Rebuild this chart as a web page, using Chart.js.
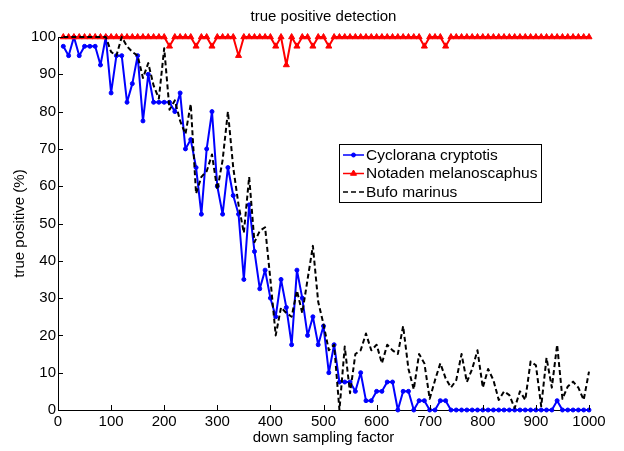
<!DOCTYPE html>
<html><head><meta charset="utf-8">
<script src="https://cdn.jsdelivr.net/npm/chart.js@4/dist/chart.umd.min.js"></script>
<style>html,body{margin:0;padding:0;background:#fff;}#wrap{width:624px;height:451px;}</style>
</head><body><div id="wrap"><canvas id="c" width="624" height="451"></canvas></div>
<script>
const samplingFactors = [10,20,30,40,50,60,70,80,90,100,110,120,130,140,150,160,170,180,190,200,
  210,220,230,240,250,260,270,280,290,300,310,320,330,340,350,360,370,380,390,400,
  410,420,430,440,450,460,470,480,490,500,510,520,530,540,550,560,570,580,590,600,
  610,620,630,640,650,660,670,680,690,700,710,720,730,740,750,760,770,780,790,800,
  810,820,830,840,850,860,870,880,890,900,910,920,930,940,950,960,970,980,990,1000];
const cyclorana = [97.5,95,100,95,97.5,97.5,97.5,92.5,100,85,
  95,95,82.5,87.5,95,77.5,90,82.5,82.5,82.5,
  82.5,80,85,70,72.5,65,52.5,70,80,60,
  52.5,65,57.5,52.5,35,55,42.5,32.5,37.5,30,
  25,35,27.5,17.5,37.5,30,20,25,17.5,22.5,
  10,17.5,7.5,7.5,7.5,5,10,2.5,2.5,5,
  5,7.5,7.5,0,5,5,0,2.5,2.5,0,
  0,2.5,2.5,0,0,0,0,0,0,0,
  0,0,0,0,0,0,0,0,0,0,
  0,0,0,2.5,0,0,0,0,0,0];
const notaden = [100,100,100,100,100,100,100,100,100,100,
  100,100,100,100,100,100,100,100,100,100,
  97.5,100,100,100,100,97.5,100,100,97.5,100,
  100,100,100,95,100,100,100,100,100,100,
  97.5,100,92.5,100,97.5,100,100,97.5,100,100,
  97.5,100,100,100,100,100,100,100,100,100,
  100,100,100,100,100,100,100,100,97.5,100,
  100,100,97.5,100,100,100,100,100,100,100,
  100,100,100,100,100,100,100,100,100,100,
  100,100,100,100,100,100,100,100,100,100];
const bufo = [100,100,100,100,100,100,100,100,100,96,
  95,100,97.5,96,95,89,93,87,83.5,97,
  80.5,83,77.5,74,82,58,62.5,64,68.5,59,
  67,80,65,55,47.5,62.5,45,48,49,35,
  20,27.5,26,25,32,26,35,44,29,23,
  16,17.5,0,17,4.5,15,16,20.5,16,17.5,
  12.5,17.5,16,15,22.5,11,5.5,15,12.5,3,
  8,12.5,8.5,6,8,15,7.5,11,16,6,
  11,8,2.7,5,4,0.5,5,2.7,13,12,
  1,14,6,17.5,3,6.3,7.6,6,2.7,10.3];
const seriesNames = ['Cyclorana cryptotis','Notaden melanoscaphus','Bufo marinus'];
const xTicks = [0,100,200,300,400,500,600,700,800,900,1000];
const yTicks = [0,10,20,30,40,50,60,70,80,90,100];
const chartTitle = 'true positive detection';
const xTitle = 'down sampling factor';
const yTitle = 'true positive (%)';

const FONT = '"Liberation Sans", Arial, Helvetica, sans-serif';
const pts = arr => samplingFactors.map((x,i)=>({x:x,y:arr[i]}));

const decorPlugin = {
  id:'decor',
  afterDraw(chart){
    const ctx = chart.ctx, a = chart.chartArea;
    const xs = chart.scales.x, ys = chart.scales.y;
    ctx.save();
    ctx.strokeStyle = '#000'; ctx.lineWidth = 1;
    ctx.beginPath();
    xTicks.forEach(v=>{ const p = Math.round(xs.getPixelForValue(v))+0.5; ctx.moveTo(p,a.bottom); ctx.lineTo(p,a.bottom-5); });
    yTicks.forEach(v=>{ const p = Math.round(ys.getPixelForValue(v))+0.5; ctx.moveTo(a.left,p); ctx.lineTo(a.left+5,p); });
    ctx.stroke();
    ctx.fillStyle = '#000';
    ctx.font = '15px ' + FONT;
    ctx.textAlign = 'center'; ctx.textBaseline = 'middle';
    ctx.fillText(chartTitle, (a.left+a.right)/2, 17);
    const lx = 339.5, ly = 144.5, lw = 202, lh = 58;
    ctx.fillStyle = '#fff'; ctx.fillRect(lx,ly,lw,lh);
    ctx.strokeStyle = '#000'; ctx.lineWidth = 1; ctx.strokeRect(lx,ly,lw,lh);
    const rows = [155, 173.5, 192];
    chart.data.datasets.forEach((ds,i)=>{
      const y = rows[i];
      ctx.save();
      ctx.strokeStyle = ds.borderColor; ctx.lineWidth = 1.5;
      ctx.setLineDash(ds.borderDash || []);
      ctx.beginPath(); ctx.moveTo(343,y); ctx.lineTo(364,y); ctx.stroke();
      ctx.setLineDash([]);
      if (ds.pointRadius > 0) {
        ctx.fillStyle = ds.pointBackgroundColor; ctx.strokeStyle = ds.pointBorderColor;
        ctx.lineWidth = 1;
        Chart.helpers.drawPoint(ctx, {pointStyle: ds.pointStyle, radius: ds.pointRadius, borderWidth: 1, rotation: 0}, 353.5, y);
      }
      ctx.restore();
      ctx.fillStyle = '#000'; ctx.font = '15.5px ' + FONT;
      ctx.textAlign = 'left'; ctx.textBaseline = 'middle';
      ctx.fillText(ds.label, 366, y+0.5);
    });
    ctx.restore();
  }
};

new Chart(document.getElementById('c'), {
  type:'line',
  data:{ datasets:[
    { label:seriesNames[0], data:pts(cyclorana), borderColor:'#0000ff', backgroundColor:'#0000ff',
      borderWidth:2, pointStyle:'circle', pointRadius:2, pointBackgroundColor:'#0000ff', pointBorderColor:'#0000ff',
      pointBorderWidth:1, tension:0, clip:false, order:2 },
    { label:seriesNames[1], data:pts(notaden), borderColor:'#ff0000', backgroundColor:'#ff0000',
      borderWidth:2, pointStyle:'triangle', pointRadius:3.5, pointBackgroundColor:'#ff0000', pointBorderColor:'#ff0000',
      pointBorderWidth:1, tension:0, clip:false, order:1 },
    { label:seriesNames[2], data:pts(bufo), borderColor:'#000000', backgroundColor:'#000000',
      borderWidth:2, borderDash:[5,3], pointRadius:0, pointStyle:'circle', tension:0, clip:false, order:0 }
  ]},
  options:{
    responsive:false, animation:false, devicePixelRatio:1,
    layout:{ padding:{ top:37, right:35, left:0, bottom:0 } },
    plugins:{ legend:{display:false}, tooltip:{enabled:false}, title:{display:false} },
    elements:{ line:{ borderCapStyle:'butt', borderJoinStyle:'round' } },
    scales:{
      x:{ type:'linear', min:0, max:1000,
        afterBuildTicks(s){ s.ticks = xTicks.map(v=>({value:v})); },
        afterFit(s){ s.height = 41; },
        grid:{ display:true, drawOnChartArea:false, drawTicks:false, color:'rgba(0,0,0,0)' },
        border:{ display:true, color:'#000', width:1 },
        ticks:{ color:'#000', font:{ family:FONT, size:15 }, padding:3, maxRotation:0, autoSkip:false,
          callback:(v)=>String(v) },
        title:{ display:true, text:xTitle, color:'#000', font:{ family:FONT, size:15 }, padding:{ top:0, bottom:4 } }
      },
      y:{ type:'linear', min:0, max:100,
        afterBuildTicks(s){ s.ticks = yTicks.map(v=>({value:v})); },
        afterFit(s){ s.width = 58; },
        grid:{ display:true, drawOnChartArea:false, drawTicks:false, color:'rgba(0,0,0,0)' },
        border:{ display:true, color:'#000', width:1 },
        ticks:{ color:'#000', font:{ family:FONT, size:15 }, padding:2, autoSkip:false,
          callback:(v)=>String(v) },
        title:{ display:true, text:yTitle, color:'#000', font:{ family:FONT, size:15 }, padding:{ top:11, bottom:0 } }
      }
    }
  },
  plugins:[decorPlugin]
});
</script>
</body></html>
